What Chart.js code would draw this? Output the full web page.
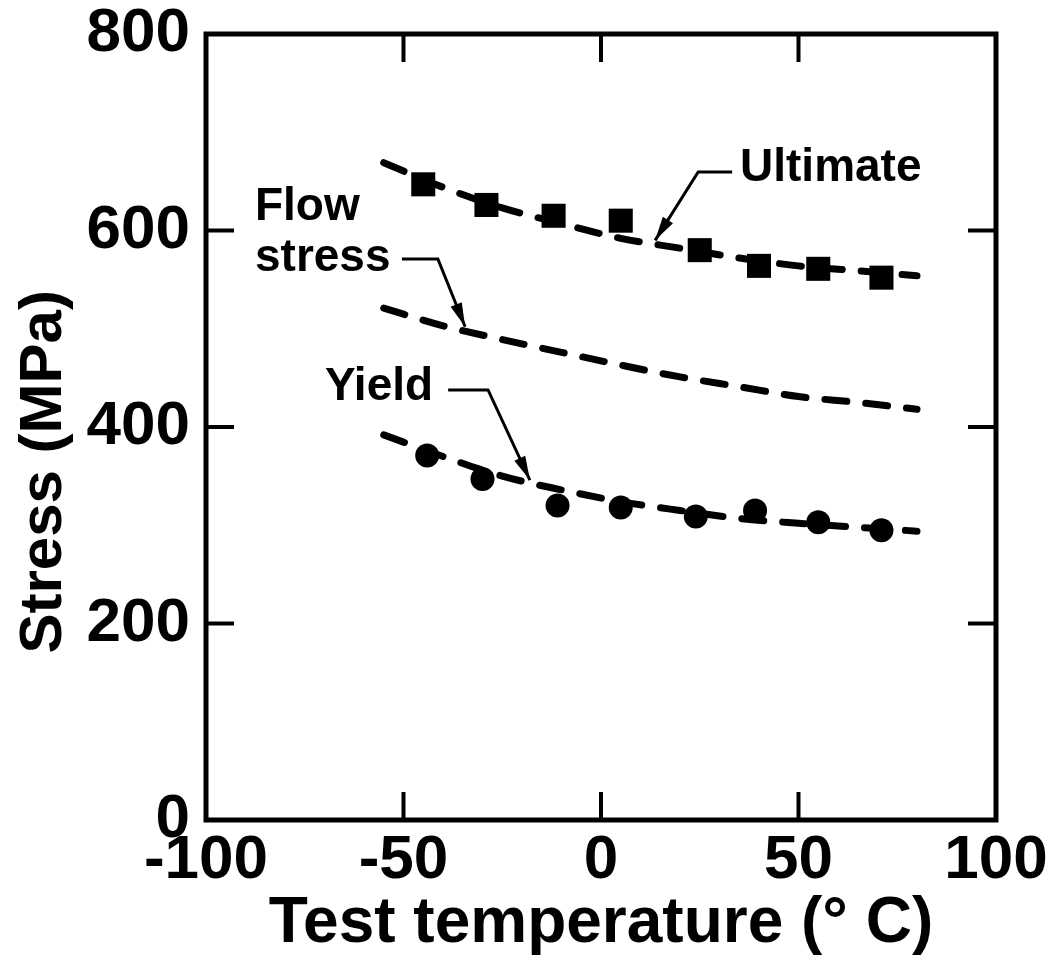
<!DOCTYPE html>
<html>
<head>
<meta charset="utf-8">
<script src="https://cdn.jsdelivr.net/npm/chart.js@4.4.1/dist/chart.umd.min.js"></script>
<style>
    html, body { margin: 0; padding: 0; background: #fff; }
    #box { width: 1054px; height: 963px; }
</style>
</head>
<body>
<div id="box"><canvas id="stressChart"></canvas></div>
<script>
    // fitted curves (dashed)
    const curveTemps = [-55, -40, -25, -10, 5, 20, 35, 50, 65, 80];
    const ultimateCurve = [669, 644, 623, 607, 592, 582, 572, 564, 559, 554];
    const flowCurve = [521, 503, 489, 476, 463, 451, 441, 431, 425, 418];
    const yieldCurve = [392, 370, 350, 336, 324, 315, 307, 302, 298, 294];

    // measured points
    const ultimateTemps = [-45, -29, -12, 5, 25, 40, 55, 71];
    const ultimateValues = [647, 626, 615, 610, 580, 564, 561, 552];
    const yieldTemps = [-44, -30, -11, 5, 24, 39, 55, 71];
    const yieldValues = [371, 347, 320, 318, 309, 315, 303, 295];

    // axes
    const xTicks = [-100, -50, 0, 50, 100];
    const yTicks = [0, 200, 400, 600, 800];
    const xTitle = 'Test temperature (° C)';
    const yTitle = 'Stress (MPa)';

    // callout labels: text lines, anchor (data units), leader elbow and arrow tip
    const callouts = [
        { lines: ['Ultimate'], at: [35.2, 663], leader: [[33.2, 659.5], [24.6, 659.5], [13.7, 590]] },
        { lines: ['Flow', 'stress'], at: [-87.6, 624], leader: [[-50.4, 571], [-41.3, 571], [-34.4, 502]] },
        { lines: ['Yield'], at: [-69.9, 440], leader: [[-38.7, 437.7], [-28.6, 437.7], [-18, 346]] },
    ];

    const FONT = '"Liberation Sans", Arial, Helvetica, sans-serif';

    const toXY = (xs, ys) => xs.map((x, i) => ({ x: x, y: ys[i] }));

    const curveStyle = {
        showLine: true,
        borderColor: '#000',
        borderWidth: 7,
        borderDash: [22, 19],
        borderCapStyle: 'round',
        cubicInterpolationMode: 'monotone',
        pointRadius: 0,
        pointHoverRadius: 0,
        fill: false
    };

    // frame, inside ticks, y title and callouts
    const framePlugin = {
        id: 'frame',
        afterDraw(chart) {
            const ctx = chart.ctx;
            const a = chart.chartArea;
            const sx = chart.scales.x;
            const sy = chart.scales.y;
            const tick = 28;
            ctx.save();
            ctx.strokeStyle = '#000';
            ctx.lineWidth = 4;
            xTicks.forEach(v => {
                const px = sx.getPixelForValue(v);
                ctx.beginPath();
                ctx.moveTo(px, a.bottom); ctx.lineTo(px, a.bottom - tick);
                ctx.moveTo(px, a.top); ctx.lineTo(px, a.top + tick);
                ctx.stroke();
            });
            yTicks.forEach(v => {
                const py = sy.getPixelForValue(v);
                ctx.beginPath();
                ctx.moveTo(a.left, py); ctx.lineTo(a.left + tick, py);
                ctx.moveTo(a.right, py); ctx.lineTo(a.right - tick, py);
                ctx.stroke();
            });
            ctx.lineWidth = 5;
            ctx.strokeRect(a.left, a.top, a.right - a.left, a.bottom - a.top);

            // y title
            ctx.fillStyle = '#000';
            ctx.font = 'bold 60px ' + FONT;
            ctx.textAlign = 'center';
            ctx.textBaseline = 'middle';
            ctx.translate(44, a.top + (a.bottom - a.top) * 0.557);
            ctx.rotate(-Math.PI / 2);
            ctx.fillText(yTitle, 0, 0);
            ctx.setTransform(1, 0, 0, 1, 0, 0);

            // callouts
            ctx.font = 'bold 46px ' + FONT;
            ctx.textAlign = 'left';
            ctx.textBaseline = 'middle';
            callouts.forEach(c => {
                const tx = sx.getPixelForValue(c.at[0]);
                const ty = sy.getPixelForValue(c.at[1]);
                c.lines.forEach((t, i) => ctx.fillText(t, tx, ty + i * 51));
                const pts = c.leader.map(p => [sx.getPixelForValue(p[0]), sy.getPixelForValue(p[1])]);
                ctx.lineWidth = 3;
                ctx.beginPath();
                ctx.moveTo(pts[0][0], pts[0][1]);
                ctx.lineTo(pts[1][0], pts[1][1]);
                ctx.lineTo(pts[2][0], pts[2][1]);
                ctx.stroke();
                // arrow head
                const ang = Math.atan2(pts[2][1] - pts[1][1], pts[2][0] - pts[1][0]);
                const len = 24, half = 6;
                const bx = pts[2][0] - len * Math.cos(ang);
                const by = pts[2][1] - len * Math.sin(ang);
                ctx.beginPath();
                ctx.moveTo(pts[2][0], pts[2][1]);
                ctx.lineTo(bx + half * Math.sin(ang), by - half * Math.cos(ang));
                ctx.lineTo(bx - half * Math.sin(ang), by + half * Math.cos(ang));
                ctx.closePath();
                ctx.fill();
            });
            ctx.restore();
        }
    };

    const chartData = {
        datasets: [
            Object.assign({ label: 'Ultimate curve', data: toXY(curveTemps, ultimateCurve) }, curveStyle),
            Object.assign({ label: 'Flow stress', data: toXY(curveTemps, flowCurve) }, curveStyle),
            Object.assign({ label: 'Yield curve', data: toXY(curveTemps, yieldCurve) }, curveStyle),
            {
                label: 'Ultimate',
                data: toXY(ultimateTemps, ultimateValues),
                showLine: false,
                pointStyle: 'rect',
                pointRadius: 17,
                backgroundColor: '#000',
                borderColor: '#000',
                borderWidth: 0
            },
            {
                label: 'Yield',
                data: toXY(yieldTemps, yieldValues),
                showLine: false,
                pointStyle: 'circle',
                pointRadius: 12,
                backgroundColor: '#000',
                borderColor: '#000',
                borderWidth: 0
            }
        ]
    };

    const chartOptions = {
        responsive: true,
        maintainAspectRatio: false,
        animation: false,
        events: [],
        layout: {
            padding: { top: 34, right: 58, left: 0, bottom: 0 }
        },
        plugins: {
            legend: { display: false },
            tooltip: { enabled: false }
        },
        scales: {
            x: {
                type: 'linear',
                min: -100,
                max: 100,
                afterFit: s => { s.height = 143; s.paddingLeft = 0; s.paddingRight = 0; },
                afterBuildTicks: s => { s.ticks = xTicks.map(v => ({ value: v })); },
                grid: { display: false, drawTicks: false },
                border: { display: false },
                ticks: {
                    color: '#000',
                    padding: 4,
                    autoSkip: false,
                    maxRotation: 0,
                    font: { family: FONT, size: 62, weight: 'bold' }
                },
                title: {
                    display: true,
                    text: xTitle,
                    color: '#000',
                    padding: { top: -8, bottom: 0 },
                    font: { family: FONT, size: 64, weight: 'bold' }
                }
            },
            y: {
                type: 'linear',
                min: 0,
                max: 800,
                afterFit: s => { s.width = 206; s.paddingTop = 0; s.paddingBottom = 0; },
                afterBuildTicks: s => { s.ticks = yTicks.map(v => ({ value: v })); },
                grid: { display: false, drawTicks: false },
                border: { display: false },
                ticks: {
                    color: '#000',
                    padding: 16,
                    autoSkip: false,
                    font: { family: FONT, size: 62, weight: 'bold' }
                }
            }
        }
    };

    const stressChart = new Chart(
        document.getElementById('stressChart'),
        { type: 'scatter', data: chartData, options: chartOptions, plugins: [framePlugin] }
    );
</script>
</body>
</html>
